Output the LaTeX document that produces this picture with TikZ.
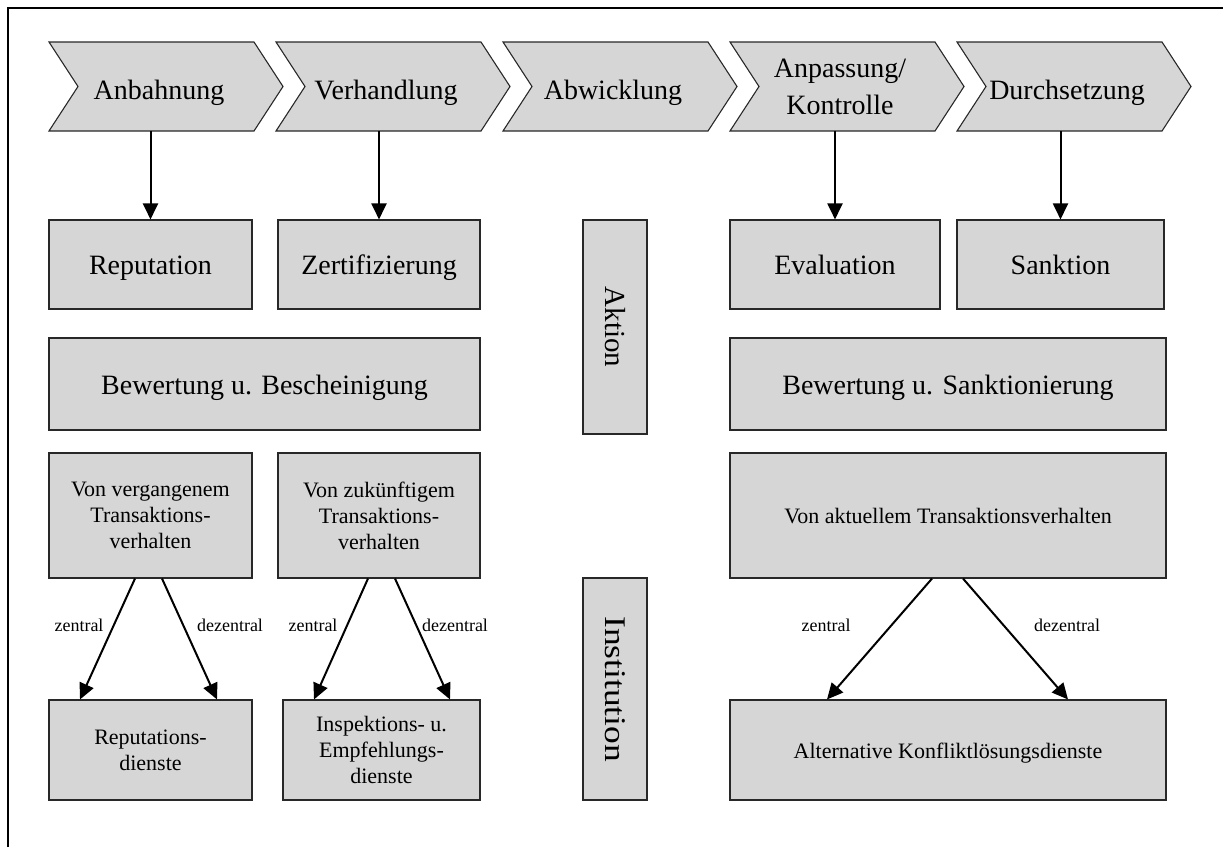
\documentclass[tikz,border=0pt]{standalone}
\usepackage{fontspec}
\setmainfont{Liberation Serif}
\usetikzlibrary{arrows.meta}
\definecolor{boxfill}{RGB}{214,214,214}
\definecolor{boxline}{RGB}{40,40,40}
\begin{document}
\begin{tikzpicture}[x=1pt,y=-1pt,
  chev/.style={fill=boxfill,draw=boxline,line width=1.1pt,line join=miter},
  bigtext/.style={font=\fontsize{28}{36}\selectfont,align=center,inner sep=0pt},
  boxbase/.style={rectangle,fill=boxfill,draw=boxline,line width=1.1pt,inner sep=0pt},
  box/.style={boxbase,font=\fontsize{28}{33}\selectfont,text height=26pt,text depth=6pt},
  onebox/.style={boxbase,font=\fontsize{22}{26}\selectfont,text height=20pt,text depth=4pt},
  smallbox/.style={boxbase,align=center,font=\fontsize{22}{26}\selectfont},
  arr/.style={line width=2pt,-{Triangle[length=16pt,width=15pt]}},
  lab/.style={font=\fontsize{18}{20}\selectfont,inner sep=0pt}]
\useasboundingbox (0,0) rectangle (1223,847);
% frame (top and left edges only)
\draw[line width=2.4pt] (8,847) -- (8,8) -- (1223,8);
% chevrons
\foreach \x in {49,276,503,730,957}{
  \draw[chev] (\x,42) -- (\x+205,42) -- (\x+234,86.5) -- (\x+205,131) -- (\x,131) -- (\x+29,86.5) -- cycle;
}
\node[bigtext,anchor=base] (t1) at (159,99) {Anbahnung};
\node[bigtext,anchor=base] (t2) at (386,99) {Verhandlung};
\node[bigtext,anchor=base] (t3) at (613,99) {Abwicklung};
\node[bigtext,anchor=base] (t4a) at (840,77) {Anpassung/};
\node[bigtext,anchor=base] (t4b) at (840,114) {Kontrolle};
\node[bigtext,anchor=base] (t5) at (1067,99) {Durchsetzung};
\coordinate (c1) at (150.5,131);
\coordinate (c2) at (379,131);
\coordinate (c4) at (835,131);
\coordinate (c5) at (1060.5,131);
% row 1
\node[box,minimum width=203,minimum height=89] (rep) at (150.5,264.5) {Reputation};
\node[box,minimum width=202,minimum height=89] (zert) at (379,264.5) {Zertifizierung};
\node[box,minimum width=210,minimum height=89] (eval) at (835,264.5) {Evaluation};
\node[box,minimum width=207,minimum height=89] (sank) at (1060.5,264.5) {Sanktion};
% row 2
\node[box,minimum width=431,minimum height=92] (bewB) at (264.5,384) {Bewertung u. Bescheinigung};
\node[box,minimum width=436,minimum height=92] (bewS) at (948,384) {Bewertung u. Sanktionierung};
% vertical boxes
\node[boxbase,minimum width=64,minimum height=214] (akt) at (615,327) {};
\node[font=\fontsize{29}{33}\selectfont,inner sep=0pt,rotate=-90] (aktt) at (akt.center) {Aktion};
\node[boxbase,minimum width=64,minimum height=222] (inst) at (615,689) {};
\node[font=\fontsize{30}{33}\selectfont,inner sep=0pt,rotate=-90] (instt) at (inst.center) {\scalebox{1.18}[1]{Institution}};
% row 3
\node[smallbox,minimum width=203,minimum height=125] (vonV) at (150.5,515.5) {Von vergangenem\\Transaktions-\\verhalten};
\node[smallbox,minimum width=202,minimum height=125] (vonZ) at (379,515.5) {Von zuk\"unftigem\\Transaktions-\\verhalten};
\node[onebox,minimum width=436,minimum height=125] (vonA) at (948,515.5) {Von aktuellem Transaktionsverhalten};
% row 4
\node[smallbox,minimum width=203,minimum height=100] (repD) at (150.5,750) {Reputations-\\dienste};
\node[smallbox,minimum width=197,minimum height=100] (insp) at (381.5,750) {Inspektions- u.\\Empfehlungs-\\dienste};
\node[onebox,minimum width=436,minimum height=100] (alt) at (948,750) {Alternative Konfliktl\"osungsdienste};
% vertical arrows
\draw[arr] (c1) -- (rep.north);
\draw[arr] (c2) -- (zert.north);
\draw[arr] (c4) -- (eval.north);
\draw[arr] (c5) -- (sank.north);
% diagonal arrows
\draw[arr] (vonV.south -| 135,0) -- (repD.north -| 80,0);
\draw[arr] (vonV.south -| 162,0) -- (repD.north -| 217,0);
\draw[arr] (vonZ.south -| 368,0) -- (insp.north -| 314,0);
\draw[arr] (vonZ.south -| 395,0) -- (insp.north -| 450,0);
\draw[arr] (vonA.south -| 932,0) -- (alt.north -| 827,0);
\draw[arr] (vonA.south -| 963,0) -- (alt.north -| 1068,0);
% labels
\node[lab] (l1) at (79,625) {zentral};
\node[lab] (l2) at (230,625) {dezentral};
\node[lab] (l3) at (313,625) {zentral};
\node[lab] (l4) at (455,625) {dezentral};
\node[lab] (l5) at (826,625) {zentral};
\node[lab] (l6) at (1067,625) {dezentral};
\end{tikzpicture}
\end{document}
